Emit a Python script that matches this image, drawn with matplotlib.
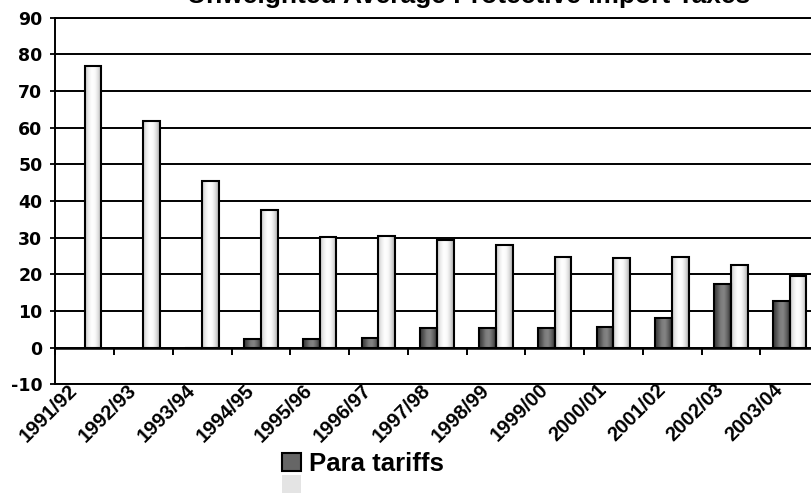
import numpy as np
import matplotlib
matplotlib.use('Agg')
import matplotlib.pyplot as plt
from matplotlib.colors import LinearSegmentedColormap
from matplotlib.patches import Patch
from matplotlib.transforms import ScaledTranslation

years = ['1991/92', '1992/93', '1993/94', '1994/95', '1995/96', '1996/97', '1997/98',
         '1998/99', '1999/00', '2000/01', '2001/02', '2002/03', '2003/04']
para_tariffs = [np.nan, np.nan, 0.0, 2.4, 2.3, 2.7, 5.4, 5.4, 5.4, 5.6, 8.2, 17.3, 12.8]
other_taxes = [76.8, 61.9, 45.5, 37.5, 30.1, 30.4, 29.3, 28.0, 24.8, 24.4, 24.7, 22.6, 19.6]
series_labels = ['Para tariffs', '']
title = 'Unweighted Average Protective Import Taxes'
yticks = list(range(-10, 100, 10))

plt.rcParams['font.family'] = ['Liberation Sans', 'DejaVu Sans']
plt.rcParams['font.weight'] = 'bold'
ytick_font = {'family': ['DejaVu Sans'], 'weight': 'bold', 'size': 12.5}
xtick_font = {'family': ['Liberation Sans'], 'weight': 'bold', 'size': 14.5}

W, H = 811, 493
fig = plt.figure(figsize=(W / 100, H / 100), dpi=100)
left, right, top, bottom = 55.3, 819, 17.7, 384.4
ax = fig.add_axes([left / W, 1 - bottom / H, (right - left) / W, (bottom - top) / H])

x = np.arange(len(years))
bw = 1 / 3.5
dark_cmap = LinearSegmentedColormap.from_list(
    'd', ['#363636', '#555555', '#7c7c7c', '#848484', '#626262', '#343434'])
light_cmap = LinearSegmentedColormap.from_list(
    'l', ['#c4c4c4', '#ececec', '#ffffff', '#fafafa', '#dcdcdc', '#a8a8a8'])

b1 = ax.bar(x - bw / 2, para_tariffs, bw, color='#666666', edgecolor='none', zorder=3)
b2 = ax.bar(x + bw / 2, other_taxes, bw, color='#eeeeee', edgecolor='none', zorder=3)
grad = np.linspace(0, 1, 64)[None, :]
for bars, cmap in ((b1, dark_cmap), (b2, light_cmap)):
    for p in bars:
        h = p.get_height()
        if not np.isfinite(h) or h == 0:
            continue
        x0, y0 = p.get_xy()
        w = p.get_width()
        im = ax.imshow(grad, extent=[x0, x0 + w, y0, y0 + h], cmap=cmap,
                       aspect='auto', interpolation='bilinear', zorder=3.1)
        im.set_clip_path(p)
ax.bar(x - bw / 2, para_tariffs, bw, fill=False, edgecolor='black', lw=1.5, zorder=4)
ax.bar(x + bw / 2, other_taxes, bw, fill=False, edgecolor='black', lw=1.5, zorder=4)

ax.set_xlim(-0.5, len(years) - 0.5)
ax.set_ylim(yticks[0], yticks[-1])
ax.set_yticks(yticks)
ax.set_yticklabels([str(v) for v in yticks], fontdict=ytick_font)
ax.yaxis.grid(True, color='black', lw=1.4, zorder=1)
ax.set_axisbelow(True)
ax.tick_params(axis='y', length=3.8, width=1.3, direction='out', pad=5.5)

ax.set_xticks(x)
ax.set_xticklabels(years, fontdict=xtick_font)
ax.tick_params(axis='x', length=0, pad=-2.9)
shift = ScaledTranslation(-16.5 / 100, 0, fig.dpi_scale_trans)
for lab in ax.get_xticklabels():
    lab.set_rotation(45)
    lab.set_ha('right')
    lab.set_va('top')
    lab.set_rotation_mode('anchor')
    lab.set_transform(lab.get_transform() + shift)

for s in ('left', 'top', 'bottom'):
    ax.spines[s].set_color('black')
    ax.spines[s].set_linewidth(1.4)
ax.spines['right'].set_visible(False)

loc0 = (0 - yticks[0]) / (yticks[-1] - yticks[0])
sec = ax.secondary_xaxis(loc0)
sec.set_xticks(np.arange(-0.5, len(years), 1.0))
sec.set_xticklabels([])
sec.tick_params(axis='x', length=5, width=1.4, direction='out', color='black')
for s in sec.spines.values():
    s.set_linewidth(1.8)
    s.set_color('black')

fig.text(469 / W, 1 - 3.5 / H, title, ha='center', va='baseline',
         fontsize=19, fontweight='bold')

handles = [Patch(facecolor='#666666', edgecolor='black', lw=1.5),
           Patch(facecolor='#e4e4e4', edgecolor='none')]
fig.legend(handles, series_labels, loc='upper left',
           bbox_to_anchor=(282 / W, 1 - 452 / H), frameon=False,
           prop={'size': 18.5, 'weight': 'bold'},
           handlelength=0.75, handleheight=0.75, handletextpad=0.3,
           labelspacing=-0.05, borderpad=0, borderaxespad=0)

fig.savefig('out.png', dpi=100)
